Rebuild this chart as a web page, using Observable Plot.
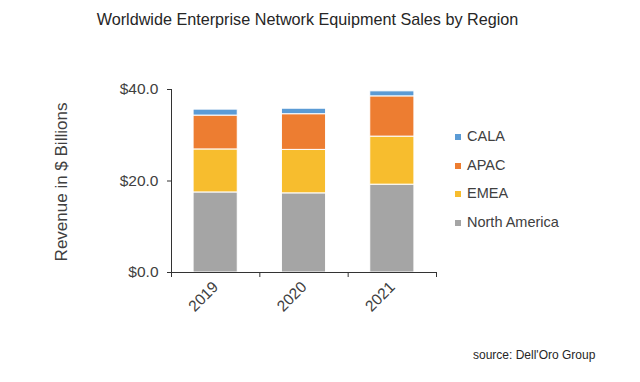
<!DOCTYPE html>
<html>
<head>
<meta charset="utf-8">
<script src="https://cdn.jsdelivr.net/npm/d3@7"></script>
<script src="https://cdn.jsdelivr.net/npm/@observablehq/plot@0.6"></script>
<style>
  body { margin: 0; background: #fff; font-family: "Liberation Sans", Arial, sans-serif; }
  #wrap { position: relative; width: 640px; height: 382px; overflow: hidden; }
  #title { position: absolute; left: 0; width: 615px; top: 10px; text-align: center; font-size: 16.2px; color: #262626; }
  #chart { position: absolute; left: 0; top: 40px; }
  #ytitle { position: absolute; left: 62px; top: 182px; transform: translate(-50%, -50%) rotate(-90deg); font-size: 17px; color: #404040; white-space: nowrap; }
  #legend { position: absolute; left: 455px; top: 128px; }
  .li { height: 28.5px; display: flex; align-items: flex-start; font-size: 14.5px; color: #404040; }
  .sw { width: 6px; height: 6px; margin-right: 6px; margin-top: 6px; }
  #source { position: absolute; left: 473px; top: 348px; font-size: 12px; color: #262626; }
</style>
</head>
<body>
<div id="wrap">
  <div id="title"></div>
  <div id="chart"></div>
  <div id="ytitle"></div>
  <div id="legend"></div>
  <div id="source"></div>
</div>
<script>
const titleText = "Worldwide Enterprise Network Equipment Sales by Region";
const yTitle = "Revenue in $ Billions";
const sourceText = "source: Dell'Oro Group";
const years = ["2019", "2020", "2021"];
const regions = ["North America", "EMEA", "APAC", "CALA"];
const colors = ["#a5a5a5", "#f7bd2e", "#ed7d31", "#5b9bd5"];
const northAmerica = [17.5, 17.3, 19.2];
const emea = [9.4, 9.5, 10.5];
const apac = [7.4, 7.8, 8.8];
const cala = [1.3, 1.2, 1.1];
const yTicks = [0, 20, 40];

const series = [northAmerica, emea, apac, cala];
const data = [];
years.forEach((yr, i) => {
  regions.forEach((r, j) => {
    data.push({ i, year: yr, region: r, value: series[j][i] });
  });
});

document.getElementById("title").textContent = titleText;
document.getElementById("ytitle").textContent = yTitle;
document.getElementById("source").textContent = sourceText;

const legend = document.getElementById("legend");
regions.slice().reverse().forEach((r) => {
  const j = regions.indexOf(r);
  const row = document.createElement("div");
  row.className = "li";
  const sw = document.createElement("div");
  sw.className = "sw";
  sw.style.background = colors[j];
  const t = document.createElement("span");
  t.textContent = r;
  row.appendChild(sw);
  row.appendChild(t);
  legend.appendChild(row);
});

const ink = "#404040";
const chart = Plot.plot({
  width: 640,
  height: 300,
  marginLeft: 171,
  marginRight: 204,
  marginTop: 49,
  marginBottom: 68,
  style: { fontFamily: "Liberation Sans, Arial, sans-serif", fontSize: "15.5px", color: ink, background: "white" },
  x: { domain: [0, years.length] },
  y: { domain: [0, 40] },
  color: { domain: regions, range: colors },
  marks: [
    Plot.rectY(data, Plot.stackY({
      x1: d => d.i + 0.25,
      x2: d => d.i + 0.75,
      y: "value",
      fill: "region",
      order: regions,
      stroke: "white",
      strokeWidth: 1
    })),
    Plot.ruleX([0], { stroke: "#333" }),
    Plot.ruleY([0], { stroke: "#333" }),
    Plot.axisY({ ticks: yTicks, tickFormat: d => "$" + d.toFixed(1), tickSize: 4, tickPadding: 9, label: null, stroke: "#333" }),
    Plot.axisX({ ticks: d3.range(years.length + 1), tickFormat: () => "", tickSize: 5, label: null, stroke: "#333" }),
    Plot.axisX({ ticks: years.map((_, i) => i + 0.5), tickFormat: d => years[Math.floor(d)], tickSize: 0, tickPadding: 12, tickRotate: -45, label: null })
  ]
});
document.getElementById("chart").appendChild(chart);
</script>
</body>
</html>
